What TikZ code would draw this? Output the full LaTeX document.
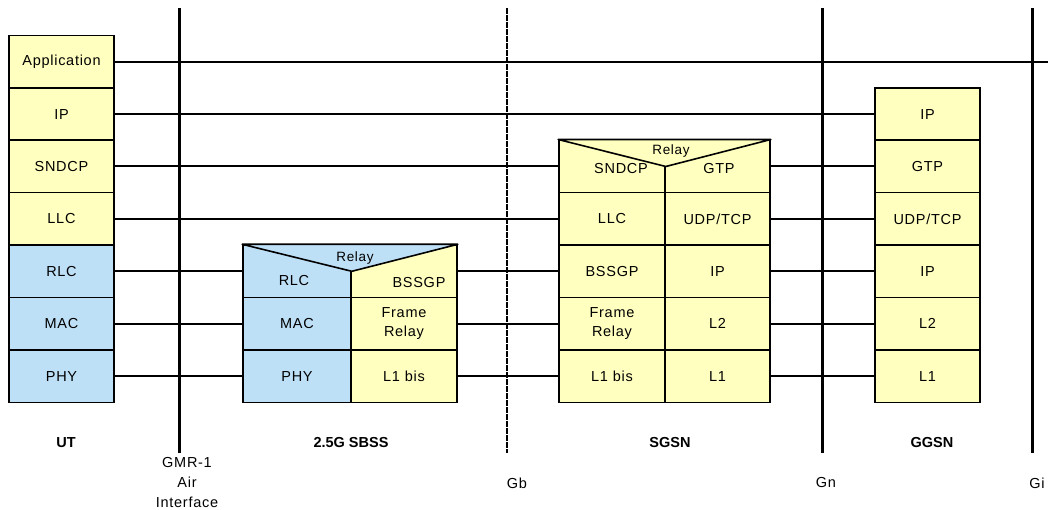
\documentclass[tikz,border=0pt]{standalone}
\usepackage{fontspec}
\setmainfont{Liberation Sans}
\newfontfamily\spacedfont[LetterSpace=5]{Liberation Sans}
\usetikzlibrary{positioning}
\definecolor{stkyellow}{RGB}{255,255,192}
\definecolor{stkblue}{RGB}{190,224,247}

\begin{document}
\begin{tikzpicture}[x=1pt, y=-1pt,
      cell/.style={draw, line width=1.6pt, minimum height=52.4pt, inner sep=0pt, align=center, font=\spacedfont\fontsize{14.5}{17}\selectfont},
      ylw/.style={cell, fill=stkyellow},
      blu/.style={cell, fill=stkblue},
      link/.style={line width=2pt},
      iface/.style={line width=3pt},
      relay/.style={font=\spacedfont\fontsize{13.5}{16}\selectfont, inner sep=0pt},
      txt/.style={font=\spacedfont\fontsize{14.5}{17}\selectfont, inner sep=0pt},
      stackname/.style={font=\fontsize{14.5}{17}\selectfont\bfseries, inner sep=0pt},
      ifname/.style={font=\spacedfont\fontsize{14.5}{20}\selectfont, align=center, inner sep=0pt}
    ]
      \useasboundingbox (0,0) rectangle (1048,510);

      % UT
      \node[ylw, minimum width=105pt] (ut-app) at (61.5,61.7) {Application};
      \node[ylw, minimum width=105pt] (ut-ip) at (61.5,114.1) {IP};
      \node[ylw, minimum width=105pt] (ut-sndcp) at (61.5,166.5) {SNDCP};
      \node[ylw, minimum width=105pt] (ut-llc) at (61.5,218.9) {LLC};
      \node[blu, minimum width=105pt] (ut-rlc) at (61.5,271.3) {RLC};
      \node[blu, minimum width=105pt] (ut-mac) at (61.5,323.7) {MAC};
      \node[blu, minimum width=105pt] (ut-phy) at (61.5,376.1) {PHY};

      % 2.5G SBSS
      \node[blu, minimum width=108pt] (sbss-rlc) at (297,271.3) {};
      \node[ylw, minimum width=106pt] (sbss-bssgp) at (404,271.3) {};
      \node[blu, minimum width=108pt] (sbss-mac) at (297,323.7) {MAC};
      \node[ylw, minimum width=106pt] (sbss-fr) at (404,323.7) {Frame\\[2pt]Relay};
      \node[blu, minimum width=108pt] (sbss-phy) at (297,376.1) {PHY};
      \node[ylw, minimum width=106pt] (sbss-l1) at (404,376.1) {L1 bis};
      \draw[cell, fill=stkblue, line join=round] (sbss-rlc.north west) -- (sbss-rlc.east) -- (sbss-bssgp.north east) -- cycle;
      \node[relay] (sbss-relay) at (355,258) {Relay};
      \node[txt] (sbss-rlc-txt) at (294,281) {RLC};
      \node[txt] (sbss-bssgp-txt) at (419,283) {BSSGP};

      % SGSN
      \node[ylw, minimum width=106pt] (sgsn-sndcp) at (612,166.5) {};
      \node[ylw, minimum width=105pt] (sgsn-gtp) at (717.5,166.5) {};
      \node[ylw, minimum width=106pt] (sgsn-llc) at (612,218.9) {LLC};
      \node[ylw, minimum width=105pt] (sgsn-udp) at (717.5,218.9) {UDP/TCP};
      \node[ylw, minimum width=106pt] (sgsn-bssgp) at (612,271.3) {BSSGP};
      \node[ylw, minimum width=105pt] (sgsn-ip) at (717.5,271.3) {IP};
      \node[ylw, minimum width=106pt] (sgsn-fr) at (612,323.7) {Frame\\[2pt]Relay};
      \node[ylw, minimum width=105pt] (sgsn-l2) at (717.5,323.7) {L2};
      \node[ylw, minimum width=106pt] (sgsn-l1bis) at (612,376.1) {L1 bis};
      \node[ylw, minimum width=105pt] (sgsn-l1) at (717.5,376.1) {L1};
      \draw[cell, fill=stkyellow, line join=round] (sgsn-sndcp.north west) -- (sgsn-sndcp.east) -- (sgsn-gtp.north east) -- cycle;
      \node[relay] (sgsn-relay) at (671,151) {Relay};
      \node[txt] (sgsn-sndcp-txt) at (621,169) {SNDCP};
      \node[txt] (sgsn-gtp-txt) at (719,169) {GTP};

      % GGSN
      \node[ylw, minimum width=105pt] (ggsn-ip) at (927.5,114.1) {IP};
      \node[ylw, minimum width=105pt] (ggsn-gtp) at (927.5,166.5) {GTP};
      \node[ylw, minimum width=105pt] (ggsn-udp) at (927.5,218.9) {UDP/TCP};
      \node[ylw, minimum width=105pt] (ggsn-ip2) at (927.5,271.3) {IP};
      \node[ylw, minimum width=105pt] (ggsn-l2) at (927.5,323.7) {L2};
      \node[ylw, minimum width=105pt] (ggsn-l1) at (927.5,376.1) {L1};

      % peer links
      \coordinate (app-end) at (1048,61.7);
      \draw[link] (ut-app.east) -- (app-end);
      \draw[link] (ut-ip.east) -- (ggsn-ip.west);
      \draw[link] (ut-sndcp.east) -- (ut-sndcp.east -| sgsn-sndcp.west);
      \draw[link] (sgsn-gtp.east) -- (ggsn-gtp.west);
      \draw[link] (ut-llc.east) -- (sgsn-llc.west);
      \draw[link] (sgsn-udp.east) -- (ggsn-udp.west);
      \draw[link] (ut-rlc.east) -- (sbss-rlc.west);
      \draw[link] (sbss-bssgp.east) -- (sgsn-bssgp.west);
      \draw[link] (sgsn-ip.east) -- (ggsn-ip2.west);
      \draw[link] (ut-mac.east) -- (sbss-mac.west);
      \draw[link] (sbss-fr.east) -- (sgsn-fr.west);
      \draw[link] (sgsn-l2.east) -- (ggsn-l2.west);
      \draw[link] (ut-phy.east) -- (sbss-phy.west);
      \draw[link] (sbss-l1.east) -- (sgsn-l1bis.west);
      \draw[link] (sgsn-l1.east) -- (ggsn-l1.west);

      % interfaces
      \coordinate (gmr-top) at (179,8);
      \coordinate (gmr-bot) at (179,453);
      \coordinate (gb-top) at (507,8);
      \coordinate (gb-bot) at (507,453);
      \coordinate (gn-top) at (822,8);
      \coordinate (gn-bot) at (822,453);
      \coordinate (gi-top) at (1032,8);
      \coordinate (gi-bot) at (1032,453);
      \draw[iface] (gmr-top) -- (gmr-bot);
      \draw[line width=2pt, dash pattern=on 6pt off 1pt] (gb-top) -- (gb-bot);
      \draw[iface] (gn-top) -- (gn-bot);
      \draw[iface] (gi-top) -- (gi-bot);

      % names
      \node[stackname] (ut-name) at (66,443) {UT};
      \node[stackname] (sbss-name) at (351,443) {2.5G SBSS};
      \node[stackname] (sgsn-name) at (670,443) {SGSN};
      \node[stackname] (ggsn-name) at (932,443) {GGSN};
      \node[ifname] (gmr-name) at (187,483) {GMR-1\\Air\\Interface};
      \node[txt] (gb-name) at (517,483) {Gb};
      \node[txt] (gn-name) at (826,483) {Gn};
      \node[txt] (gi-name) at (1037,483) {Gi};
    \end{tikzpicture}
\end{document}
